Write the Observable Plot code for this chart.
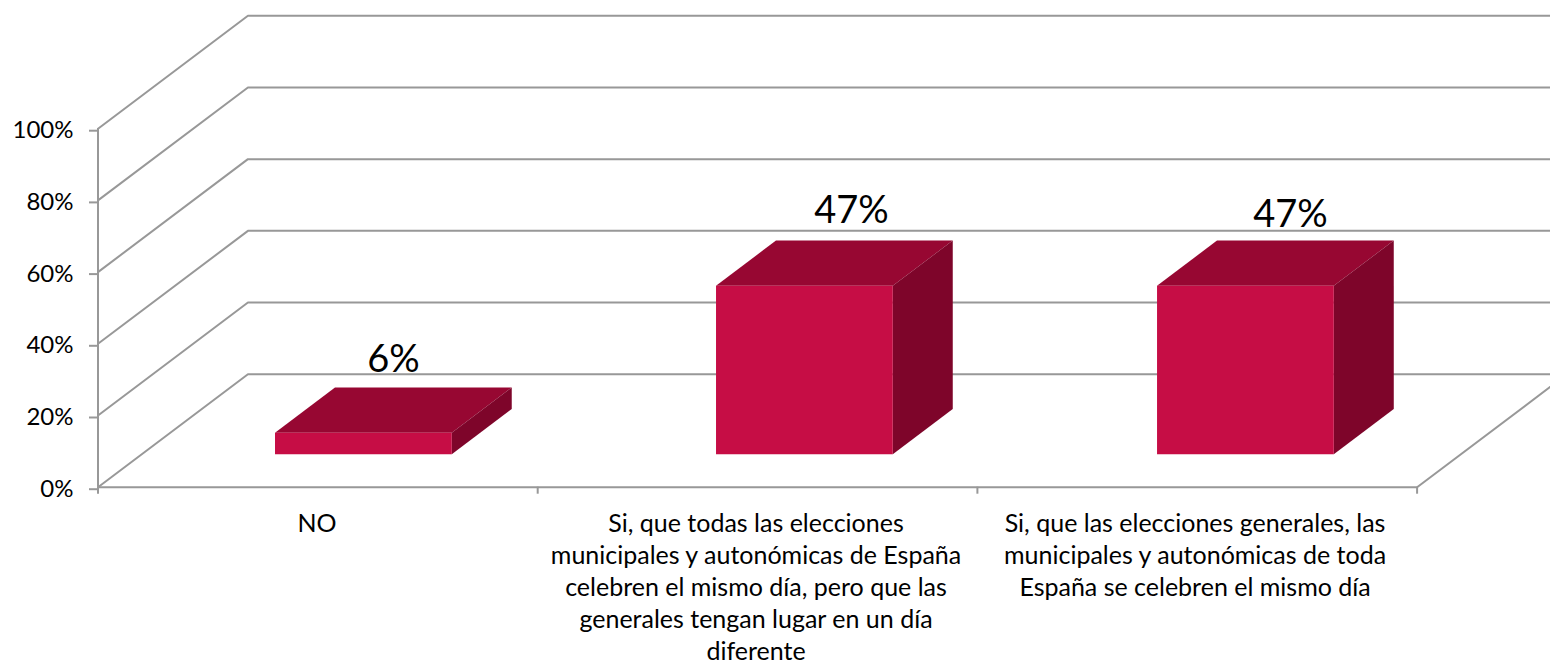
<!DOCTYPE html>
<html>
<head>
<meta charset="utf-8">
<script src="https://cdn.jsdelivr.net/npm/d3@7"></script>
<script src="https://cdn.jsdelivr.net/npm/@observablehq/plot@0.6"></script>
<style>html,body{margin:0;padding:0;background:#fff}svg{display:block}</style>
</head>
<body>
<div id="chart"></div>
<script>
const categories = [
  "NO",
  "Si, que todas las elecciones\nmunicipales y autonómicas de España\ncelebren el mismo día, pero que las\ngenerales tengan lugar en un día\ndiferente",
  "Si, que las elecciones generales, las\nmunicipales y autonómicas de toda\nEspaña se celebren el mismo día"
];
const values = [6, 47, 47];
const gridTicks = [0, 20, 40, 60, 80, 100];

// oblique projection of the 3D box: depth 0..1 shifts along x (category units) and y (percent units)
const depthX = 0.341, depthY = 31.5;
const px = (x, z) => x + z * depthX;
const py = (y, z) => y + z * depthY;
const barX0 = 0.303, barStep = 1.003, barW = 0.402, barZ0 = 0.292, barZ1 = 0.692;
const AXIS = "#989898";
const FONT = "Lato, 'Open Sans', sans-serif";

const bars = values.map((v, i) => ({i, v, x0: i * barStep + barX0, x1: i * barStep + barX0 + barW}));
const poly = (fn) => bars.flatMap(b => fn(b).map(([x, y]) => ({i: b.i, x, y})));

const front = poly(b => [[px(b.x0,barZ0),py(0,barZ0)],[px(b.x1,barZ0),py(0,barZ0)],[px(b.x1,barZ0),py(b.v,barZ0)],[px(b.x0,barZ0),py(b.v,barZ0)]]);
const top_ = poly(b => [[px(b.x0,barZ0),py(b.v,barZ0)],[px(b.x1,barZ0),py(b.v,barZ0)],[px(b.x1,barZ1),py(b.v,barZ1)],[px(b.x0,barZ1),py(b.v,barZ1)]]);
const side = poly(b => [[px(b.x1,barZ0),py(0,barZ0)],[px(b.x1,barZ1),py(0,barZ1)],[px(b.x1,barZ1),py(b.v,barZ1)],[px(b.x1,barZ0),py(b.v,barZ0)]]);

const wallLines = gridTicks.flatMap(t => [
  {t, x: 0, y: t},
  {t, x: px(0,1), y: py(t,1)},
  {t, x: px(3,1), y: py(t,1)}
]);
const floorLine = [{x:0,y:0},{x:3,y:0},{x:px(3,1),y:py(0,1)}];

const labelMarks = [
  {dx: 0, dy: 0},
  {dx: 17, dy: -2},
  {dx: 15, dy: 2}
].map((o, i) => Plot.text([bars[i]], {
  x: b => (px(b.x0,barZ0) + px(b.x1,barZ1)) / 2,
  y: b => py(b.v,barZ1),
  text: b => b.v + "%",
  dx: o.dx, dy: -16 + o.dy, lineAnchor: "bottom",
  fontSize: 38, fontFamily: FONT, fill: "black"
}));

const chart = Plot.plot({
  width: 1550, height: 665,
  marginLeft: 98, marginRight: 0, marginTop: 0, marginBottom: 0,
  x: {domain: [0, 3.3], range: [97.5, 1548.5], axis: null},
  y: {domain: [0, 100], range: [486.7, 128.2], axis: null},
  style: {fontFamily: FONT, background: "white", overflow: "hidden"},
  marks: [
    Plot.line(wallLines, {x:"x", y:"y", z:"t", stroke:AXIS, strokeWidth:2}),
    Plot.line(floorLine, {x:"x", y:"y", stroke:AXIS, strokeWidth:2}),
    Plot.ruleX([0], {y1:0, y2:100, stroke:AXIS, strokeWidth:2}),
    Plot.axisY({ticks:gridTicks, tickFormat:d=>d+"%", tickSize:9, tickPadding:16, dy:2, stroke:AXIS, strokeWidth:2, fill:"black", fontSize:24, fontFamily:FONT, label:null}),
    Plot.axisX({ticks:[0,1,2,3], tickFormat:()=>"", tickSize:7, stroke:AXIS, strokeWidth:2, anchor:"bottom", y:0, label:null}),
    Plot.text(categories, {
      x: (d,i) => i * 0.9985 + 0.498, y: 0, text: d => d,
      dy: 22, lineAnchor:"top", lineHeight:1.28, fontSize:25, fontFamily:FONT, fill:"black"
    }),
    Plot.line(top_, {x:"x", y:"y", z:"i", fill:"#970732", stroke:"none"}),
    Plot.line(side, {x:"x", y:"y", z:"i", fill:"#7E052A", stroke:"none"}),
    Plot.line(front, {x:"x", y:"y", z:"i", fill:"#C60D45", stroke:"none"}),
    ...labelMarks
  ]
});
document.getElementById("chart").appendChild(chart);
</script>
</body>
</html>
